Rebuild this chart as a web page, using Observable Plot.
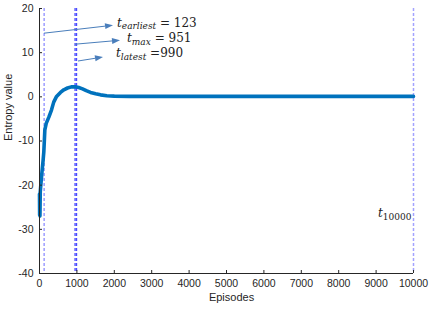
<!DOCTYPE html>
<html>
<head>
<meta charset="utf-8">
<script src="https://cdn.jsdelivr.net/npm/d3@7"></script>
<script src="https://cdn.jsdelivr.net/npm/@observablehq/plot@0.6"></script>
<style>
  html, body { margin: 0; padding: 0; background: white; }
</style>
</head>
<body>
<div id="chart"></div>
<script>
// Curve data
const episodes = [0,4,8,12,16,20,30,45,72,95,115,143,180,250,320,380,450,561,650,750,850,951,1050,1150,1250,1364,1500,1631,1800,2000,2400,3000,4000,6000,8000,10000];
const entropy  = [-22,-26.8,-23,-27,-24.5,-21.5,-20.5,-19,-16.5,-14.5,-12.5,-7.5,-6,-4.6,-3,-1.2,0,1.0,1.6,2.0,2.25,2.3,2.1,1.8,1.4,1.0,0.7,0.45,0.25,0.15,0.1,0.1,0.1,0.1,0.1,0.1];

// Marker lines
const tEarliest = [123];
const tMaxLatest = [951, 990];
const tEnd = [10000];

// Ticks
const xTicks = [0,1000,2000,3000,4000,5000,6000,7000,8000,9000,10000];
const yTicks = [-40,-30,-20,-10,0,10,20];

// Annotation labels (data coordinates)
const labelSub  = ["earliest", "max", "latest", "10000"];
const labelRest = [" = 123", " = 951", " =990", ""];
const labelX    = [2086, 2353, 2059, 9064];
const labelY    = [15.7, 12.3, 8.9, -27.4];

// Annotation arrows (data coordinates)
const arrowX1 = [134, 963, 1043];
const arrowY1 = [14.3, 11.8, 8.0];
const arrowX2 = [1979, 2166, 1711];
const arrowY2 = [16.1, 12.7, 8.9];

const curve = episodes.map((e, i) => ({episode: e, value: entropy[i]}));

function mathLabels(index, scales) {
  const g = d3.create("svg:g").attr("text-anchor", "start");
  labelSub.forEach((sub, i) => {
    const t = g.append("text")
      .attr("x", scales.x(labelX[i]))
      .attr("y", scales.y(labelY[i]))
      .attr("text-anchor", "start")
      .attr("font-family", "'DejaVu Serif', 'Liberation Serif', serif")
      .attr("font-size", 12)
      .attr("fill", "#222");
    t.append("tspan").attr("font-style", "italic").text("t");
    t.append("tspan")
      .attr("font-style", /^\d+$/.test(sub) ? "normal" : "italic")
      .attr("font-size", 9)
      .attr("dy", 2.5)
      .text(sub);
    if (labelRest[i]) t.append("tspan").attr("dy", -2.5).text(labelRest[i]);
  });
  return g.node();
}

function arrows(index, scales) {
  const g = d3.create("svg:g").attr("fill", "#4a7ebb").attr("stroke", "#4a7ebb");
  arrowX1.forEach((x1, i) => {
    const ax = scales.x(x1), ay = scales.y(arrowY1[i]);
    const bx = scales.x(arrowX2[i]), by = scales.y(arrowY2[i]);
    const ang = Math.atan2(by - ay, bx - ax);
    const L = 8, W = 3;
    const cx = bx - L * Math.cos(ang), cy = by - L * Math.sin(ang);
    g.append("line").attr("x1", ax).attr("y1", ay).attr("x2", cx).attr("y2", cy).attr("stroke-width", 1);
    const px = -Math.sin(ang) * W, py = Math.cos(ang) * W;
    g.append("polygon").attr("stroke", "none")
      .attr("points", `${bx},${by} ${cx + px},${cy + py} ${cx - px},${cy - py}`);
  });
  return g.node();
}

const chart = Plot.plot({
  width: 436,
  height: 312,
  marginLeft: 39,
  marginRight: 23,
  marginTop: 8,
  marginBottom: 39,
  x: {domain: [0, 10000]},
  y: {domain: [-40, 20]},
  style: {fontFamily: "'Liberation Sans', Arial, sans-serif", fontSize: "10.5px", color: "#262626", background: "white"},
  marks: [
    Plot.ruleX(tEarliest, {stroke: "#6a6aff", strokeWidth: 1, strokeDasharray: "3,2"}),
    Plot.ruleX(tMaxLatest, {stroke: "#4b4bff", strokeWidth: 1.3, strokeDasharray: "3,2"}),
    Plot.ruleX(tEnd, {stroke: "#a3a3ff", strokeWidth: 1.5, strokeDasharray: "3,2"}),
    Plot.line(curve, {x: "episode", y: "value", stroke: "#0072BD", strokeWidth: 3.6, strokeLinejoin: "round", strokeLinecap: "round"}),
    Plot.axisX({ticks: xTicks, tickSize: -3, tickPadding: 9, tickFormat: d => String(d), label: null, stroke: "#262626"}),
    Plot.axisY({ticks: yTicks, tickSize: -3, tickPadding: 9, tickFormat: d => String(d), label: null, stroke: "#262626"}),
    Plot.ruleY([-40], {stroke: "#262626", strokeWidth: 1}),
    Plot.ruleX([0], {stroke: "#262626", strokeWidth: 1}),
    Plot.text(["Episodes"], {frameAnchor: "bottom", dy: 27, dx: 5, text: d => d, fontSize: 11, fill: "#262626"}),
    Plot.text(["Entropy value"], {frameAnchor: "left", dx: -31, rotate: -90, text: d => d, fontSize: 11, fill: "#262626"}),
    arrows,
    mathLabels
  ]
});
document.getElementById("chart").appendChild(chart);
</script>
</body>
</html>
